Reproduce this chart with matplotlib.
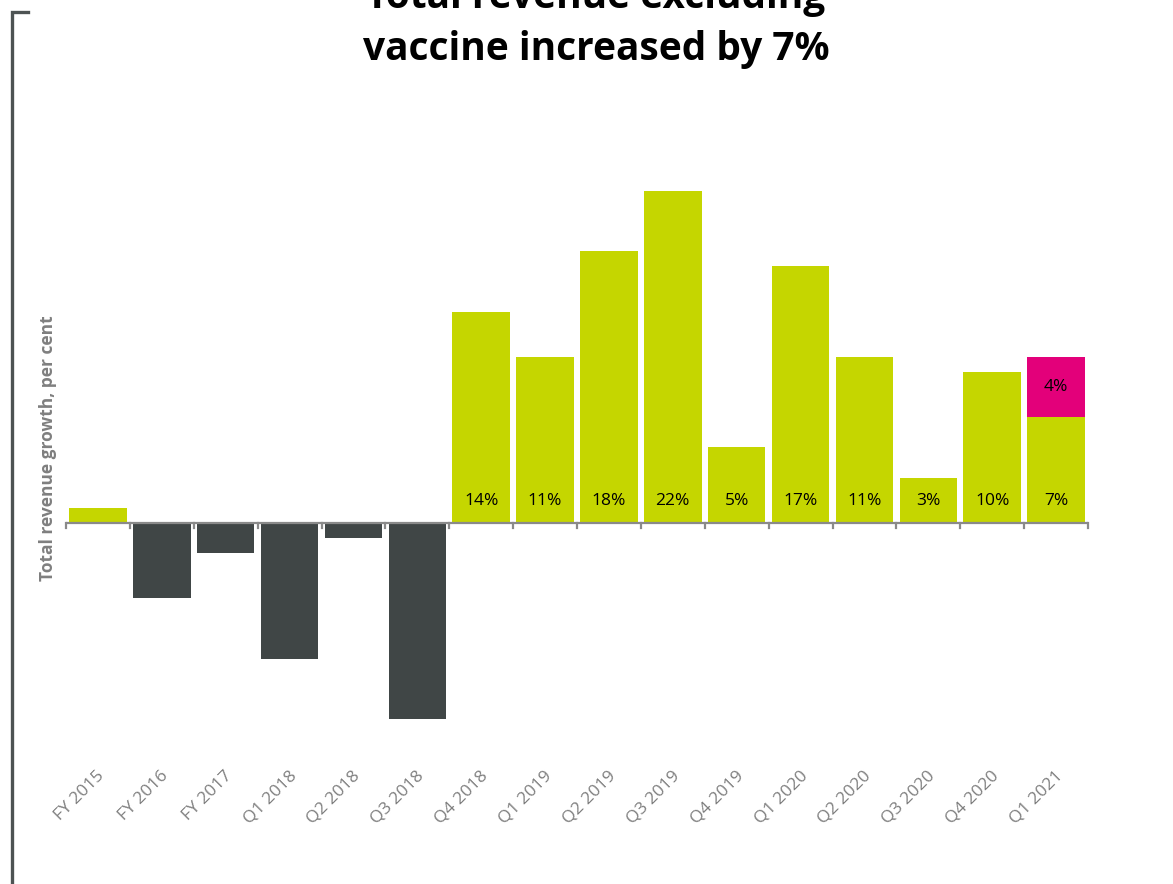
import matplotlib
matplotlib.use("Agg")
import matplotlib.pyplot as plt
from matplotlib.lines import Line2D

categories = ["FY 2015", "FY 2016", "FY 2017", "Q1 2018", "Q2 2018", "Q3 2018",
              "Q4 2018", "Q1 2019", "Q2 2019", "Q3 2019", "Q4 2019", "Q1 2020",
              "Q2 2020", "Q3 2020", "Q4 2020", "Q1 2021"]
growth = [1, -5, -2, -9, -1, -13, 14, 11, 18, 22, 5, 17, 11, 3, 10, 7]
vaccine = [0, 0, 0, 0, 0, 0, 0, 0, 0, 0, 0, 0, 0, 0, 0, 4]
labelled = [False] * 6 + [True] * 10

GREEN = "#c5d600"
DARK = "#404646"
PINK = "#e3007a"
GRAY = "#8a8a8a"

W, H = 1173, 884
fig = plt.figure(figsize=(W / 100, H / 100), dpi=100)
ylo, yhi = -14, 23
px_per = 15.1
base = 523
bottom_px = base + (-ylo) * px_per
top_px = base - yhi * px_per
ax = fig.add_axes([66 / W, 1 - bottom_px / H, (1088 - 66) / W, (bottom_px - top_px) / H])
ax.set_xlim(-0.5, len(categories) - 0.5)
ax.set_ylim(ylo, yhi)

x = list(range(len(categories)))
colors = [GREEN if v >= 0 else DARK for v in growth]
ax.bar(x, growth, width=0.9, color=colors, zorder=2)
ax.bar(x, vaccine, bottom=growth, width=0.9, color=PINK, zorder=2)

for i, (v, vac, lab) in enumerate(zip(growth, vaccine, labelled)):
    if lab:
        ax.text(i, 1.45, f"{v}%", ha="center", va="center", fontsize=12.5,
                family="Open Sans", color="black", zorder=3)
    if vac:
        ax.text(i, v + vac / 2, f"{vac}%", ha="center", va="center", fontsize=12.5,
                family="Open Sans", color="black", zorder=3)

for s in ["top", "right", "left", "bottom"]:
    ax.spines[s].set_visible(False)
ax.axhline(0, color=GRAY, lw=1.6, zorder=3)
ax.set_yticks([])
ax.set_xticks([])
for b in range(len(categories) + 1):
    ax.plot([b - 0.5, b - 0.5], [0, -0.35], color=GRAY, lw=1.6, clip_on=False, zorder=3)

for i, c in enumerate(categories):
    ax.text(i - 0.02, -16.2, c, rotation=45, ha="right", va="top", rotation_mode="anchor",
            fontsize=12.5, family="Open Sans", color="#7f7f7f", clip_on=False)

fig.text(48 / W, 1 - 448 / H, "Total revenue growth, per cent", rotation=90,
         ha="center", va="center", fontsize=12.5, fontweight="bold",
         family="Open Sans", color="#7f7f7f")

fig.text(596 / W, 1 - 8 / H, "Total revenue excluding", ha="center", va="baseline",
         fontsize=28, fontweight="bold", family="Open Sans", color="black")
fig.text(596 / W, 1 - 60 / H, "vaccine increased by 7%", ha="center", va="baseline",
         fontsize=28, fontweight="bold", family="Open Sans", color="black")

fig.add_artist(Line2D([12 / W, 12 / W, 28 / W], [0, 1 - 12 / H, 1 - 12 / H],
                      transform=fig.transFigure, color="#4d5353", lw=2.4,
                      solid_joinstyle="miter"))

fig.savefig("out.png", dpi=100)
